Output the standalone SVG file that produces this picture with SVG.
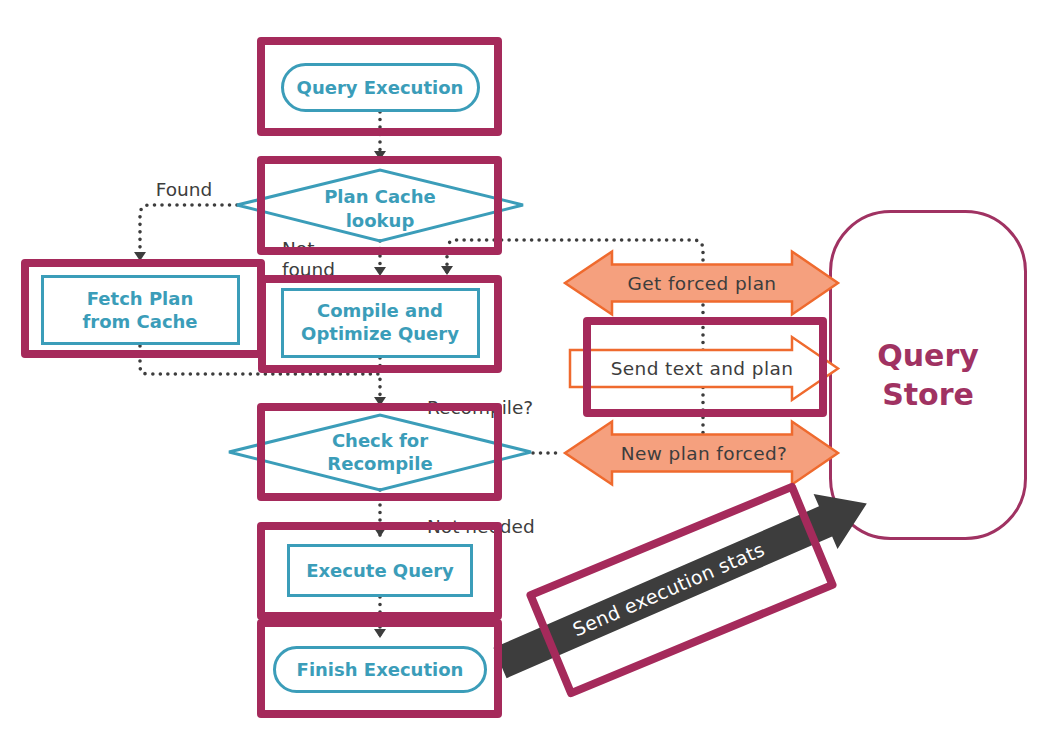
<svg xmlns="http://www.w3.org/2000/svg" width="1048" height="754" viewBox="0 0 1048 754">
<defs>
<style>
.tl{fill:none;stroke:#3B9DB9;stroke-width:3}
.tt{font-family:"DejaVu Sans",sans-serif;font-weight:bold;font-size:18px;fill:#3B9DB9;text-anchor:middle}
.lb{font-family:"DejaVu Sans",sans-serif;font-size:18.5px;fill:#3D3D3D}
.ot{font-family:"DejaVu Sans",sans-serif;font-size:18.5px;fill:#3D3D3D;text-anchor:middle;letter-spacing:0.4px}
.dot{fill:none;stroke:#3D3D3D;stroke-width:3.6;stroke-linecap:round;stroke-dasharray:0 7.5}
.oa{fill:#F5A07E;stroke:#EF6A2E;stroke-width:2.5;stroke-linejoin:miter}
.hl{fill:none;stroke:#A52A5B;stroke-width:8;stroke-linejoin:round}
</style>
<marker id="ah" viewBox="0 0 9 12" refX="9" refY="6" markerWidth="9" markerHeight="12" markerUnits="userSpaceOnUse" orient="auto">
<path d="M0,0 L9,6 L0,12 z" fill="#3D3D3D"/>
</marker>
</defs>
<rect width="1048" height="754" fill="#FFFFFF"/>

<g id="connectors">
<path class="dot" d="M380,112 L380,160" marker-end="url(#ah)"/>
<path class="dot" d="M237,205 L150,205 Q140,205 140,215 L140,261" marker-end="url(#ah)"/>
<path class="dot" d="M380,241 L380,276" marker-end="url(#ah)"/>
<path class="dot" d="M703,440 L703,250 Q703,240 693,240 L457,240 Q447,240 447,250 L447,275" marker-end="url(#ah)"/>
<path class="dot" d="M140,346 L140,366 Q140,374 148,374 L380,374 L380,406" marker-end="url(#ah)"/>
<path class="dot" d="M380,358 L380,372"/>
<path class="dot" d="M533,453 L562,453"/>
<path class="dot" d="M380,490 L380,537" marker-end="url(#ah)"/>
<path class="dot" d="M380,597 L380,638" marker-end="url(#ah)"/>
<text class="lb" x="184" y="196" text-anchor="middle">Found</text>
<text class="lb" x="282" y="255">Not<tspan x="282" y="276">found</tspan></text>
<text class="lb" x="427" y="414">Recompile?</text>
<text class="lb" x="427" y="533">Not needed</text>
</g>

<g id="query-store">
<rect x="830.5" y="211.5" width="195" height="327" rx="60" fill="#FFFFFF" stroke="#A03262" stroke-width="3"/>
<text x="928" y="366" font-family="DejaVu Sans, sans-serif" font-weight="bold" font-size="30" fill="#A03262" text-anchor="middle">Query</text>
<text x="928" y="405" font-family="DejaVu Sans, sans-serif" font-weight="bold" font-size="30" fill="#A03262" text-anchor="middle">Store</text>
</g>

<g id="query-execution">
<rect class="tl" x="282.5" y="64.5" width="196" height="46" rx="23"/>
<text class="tt" x="380" y="94">Query Execution</text>
</g>

<g id="plan-cache-lookup">
<polygon class="tl" points="237,205 380,170 523,205 380,241"/>
<text class="tt" x="380" y="203">Plan Cache</text>
<text class="tt" x="380" y="227">lookup</text>
</g>

<g id="fetch-plan">
<rect class="tl" x="42.5" y="276.5" width="196" height="67"/>
<text class="tt" x="140" y="305">Fetch Plan</text>
<text class="tt" x="140" y="328">from Cache</text>
</g>

<g id="compile-optimize">
<rect class="tl" x="282.5" y="289.5" width="196" height="67"/>
<text class="tt" x="380" y="317">Compile and</text>
<text class="tt" x="380" y="340">Optimize Query</text>
</g>

<g id="check-recompile">
<polygon class="tl" points="229,452 380,415 531,452 380,490"/>
<text class="tt" x="380" y="447">Check for</text>
<text class="tt" x="380" y="470">Recompile</text>
</g>

<g id="execute-query">
<rect class="tl" x="288.5" y="545.5" width="183" height="50"/>
<text class="tt" x="380" y="577">Execute Query</text>
</g>

<g id="finish-execution">
<rect class="tl" x="274.5" y="647.5" width="211" height="44" rx="22"/>
<text class="tt" x="380" y="676">Finish Execution</text>
</g>

<g id="get-forced-plan">
<polygon class="oa" points="565,283 612,251.5 612,264.5 792,264.5 792,251.5 838,283 792,314.5 792,301.5 612,301.5 612,314.5"/>
<text class="ot" x="702" y="290">Get forced plan</text>
</g>

<g id="send-text-plan">
<polygon points="570,350 792,350 792,337 838,368.5 792,400 792,387 570,387" fill="#FFFFFF" stroke="#EF6A2E" stroke-width="2.5"/>
<text class="ot" x="702" y="375">Send text and plan</text>
</g>

<g id="new-plan-forced">
<polygon class="oa" points="565,453 612,421.5 612,434.5 792,434.5 792,421.5 838,453 792,484.5 792,471.5 612,471.5 612,484.5"/>
<text class="ot" x="704" y="460">New plan forced?</text>
</g>

<g id="send-execution-stats" transform="translate(500,663) rotate(-23.5)">
<polygon points="0,-16.5 355,-16.5 355,-30 400,0 355,30 355,16.5 0,16.5" fill="#3D3D3D"/>
<text x="184" y="6.5" font-family="DejaVu Sans, sans-serif" font-size="19" fill="#FFFFFF" text-anchor="middle" letter-spacing="0.4">Send execution stats</text>
</g>

<g id="highlights">
<rect class="hl" x="261" y="41" width="237" height="91"/>
<rect class="hl" x="261" y="160" width="237" height="91"/>
<rect class="hl" x="25" y="263" width="236" height="91"/>
<rect class="hl" x="262" y="279" width="236" height="90"/>
<rect class="hl" x="261" y="407" width="237" height="90"/>
<rect class="hl" x="261" y="526" width="237" height="90"/>
<rect class="hl" x="261" y="623" width="237" height="91"/>
<rect class="hl" x="587" y="321" width="236" height="92"/>
<rect class="hl" transform="translate(681.5,590) rotate(-22.5)" x="-141.5" y="-53" width="283" height="106"/>
</g>
</svg>
